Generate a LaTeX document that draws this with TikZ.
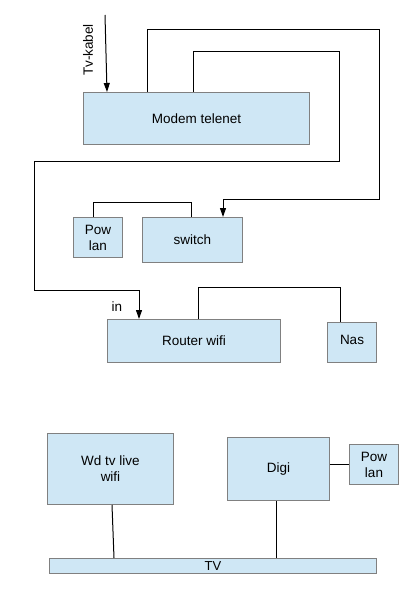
\documentclass[tikz,border=0pt]{standalone}
\usepackage{fontspec}
\setmainfont{Liberation Sans}
\usetikzlibrary{arrows.meta}
\definecolor{boxfill}{HTML}{CFE7F5}
\definecolor{boxline}{HTML}{808080}
\begin{document}
\begin{tikzpicture}[x=1pt,y=-1pt,
  box/.style={draw=boxline, fill=boxfill, line width=1pt, anchor=north west, inner sep=0pt, align=center, font=\fontsize{13.5}{16}\selectfont},
  wire/.style={draw=black, line width=1pt},
  arr/.style={wire, -{Triangle[width=6pt,length=9pt]}},
  lbl/.style={font=\fontsize{13.5}{16}\selectfont, inner sep=0pt}]
\useasboundingbox (0,0) rectangle (414,607);
\fill[white] (0,0) rectangle (414,607);
% boxes
\node[box, minimum width=226pt, minimum height=52pt] (modem) at (83,92) {Modem telenet};
\node[box, minimum width=49pt, minimum height=40pt] (pow1) at (73,217) {Pow\\lan};
\node[box, minimum width=100pt, minimum height=45pt] (switch) at (142,217) {switch};
\node[box, minimum width=173pt, minimum height=43pt] (router) at (107,319) {Router wifi};
\node[box, minimum width=49pt, minimum height=40pt] (nas) at (327,322) {\raisebox{6pt}{Nas}};
\node[box, minimum width=126pt, minimum height=71pt] (wd) at (47,433) {Wd tv live\\wifi};
\node[box, minimum width=102pt, minimum height=63pt] (digi) at (227,437) {Digi};
\node[box, minimum width=49pt, minimum height=40pt] (pow2) at (349,444) {Pow\\lan};
\node[box, minimum width=327pt, minimum height=15pt, font=\fontsize{13}{13}\selectfont] (tv) at (49,558) {TV};
% labels
\node[lbl, rotate=90] (tvklabel) at (88,50) {Tv-kabel};
\node[lbl] (inlabel) at (117,307) {in};
% coordinates
\coordinate (tvk) at (105,15);
\coordinate (tvkx) at (107,0);
\coordinate (a1) at (147,30);
\coordinate (a2) at (379,30);
\coordinate (a3) at (379,199);
\coordinate (a4) at (223,199);
\coordinate (b1) at (193,52);
\coordinate (b2) at (339,52);
\coordinate (b3) at (339,161);
\coordinate (b4) at (34,161);
\coordinate (b5) at (34,290);
\coordinate (b6) at (139,290);
\coordinate (p1) at (93,202);
\coordinate (p2) at (191,202);
\coordinate (r1) at (198,287);
\coordinate (r2) at (340,287);
\coordinate (w1) at (112,0);
\coordinate (w2) at (114,0);
\coordinate (d1) at (276,0);
\coordinate (q1) at (0,464);
% connectors
\draw[arr] (tvk) -- (tvkx |- modem.north);
\draw[wire] (a1 |- modem.north) -- (a1) -- (a2) -- (a3) -- (a4);
\draw[arr] (a4) -- (a4 |- switch.north);
\draw[wire] (b1 |- modem.north) -- (b1) -- (b2) -- (b3) -- (b4) -- (b5) -- (b6);
\draw[arr] (b6) -- (b6 |- router.north);
\draw[wire] (p1 |- pow1.north) -- (p1) -- (p2) -- (p2 |- switch.north);
\draw[wire] (r1 |- router.north) -- (r1) -- (r2) -- (r2 |- nas.north);
\draw[wire] (w1 |- wd.south) -- (w2 |- tv.north);
\draw[wire] (d1 |- digi.south) -- (d1 |- tv.north);
\draw[wire] (q1 -| digi.east) -- (q1 -| pow2.west);
\end{tikzpicture}
\end{document}
